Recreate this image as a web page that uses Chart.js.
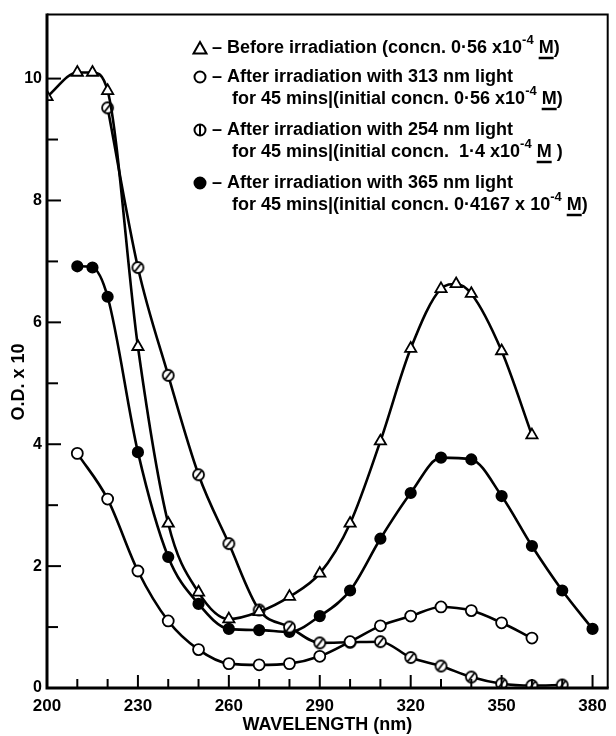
<!DOCTYPE html>
<html>
<head>
<meta charset="utf-8">
<script src="https://cdn.jsdelivr.net/npm/chart.js@4"></script>
<style>
html,body{margin:0;padding:0;background:#fff;}
#wrap{width:616px;height:736px;position:relative;}
</style>
</head>
<body>
<div id="wrap"><canvas id="c" width="616" height="736"></canvas></div>
<script>
// ---- data ----
const wavelengthsBefore = [200,210,215,220,230,240,250,260,270,280,290,300,310,320,330,335,340,350,360];
const odBefore          = [9.7,10.1,10.1,9.8,5.6,2.7,1.57,1.13,1.25,1.5,1.88,2.7,4.05,5.57,6.55,6.63,6.47,5.53,4.15];
const wavelengths313 = [210,220,230,240,250,260,270,280,290,300,310,320,330,340,350,360];
const od313          = [3.85,3.1,1.92,1.1,0.63,0.4,0.38,0.4,0.52,0.76,1.02,1.18,1.33,1.27,1.07,0.82];
const wavelengths254 = [220,230,240,250,260,270,280,290,300,310,320,330,340,350,360,370];
const od254          = [9.52,6.9,5.13,3.5,2.37,1.28,1.0,0.74,0.75,0.76,0.5,0.36,0.18,0.07,0.04,0.05];
const wavelengths365 = [210,215,220,230,240,250,260,270,280,290,300,310,320,330,340,350,360,370,380];
const od365          = [6.92,6.9,6.42,3.87,2.15,1.38,0.97,0.95,0.92,1.18,1.6,2.45,3.2,3.78,3.75,3.15,2.33,1.6,0.97];

const xTickValues = [200,210,220,230,240,250,260,270,280,290,300,310,320,330,340,350,360,370,380];
const xTickLabels = [200,230,260,290,320,350,380];
const yTickValues = [0,1,2,3,4,5,6,7,8,9,10];
const yTickLabels = [0,2,4,6,8,10];

const xTitle = 'WAVELENGTH (nm)';
const yTitle = 'O.D. x 10';

const legendLines = [
  {sym:'triangle', parts:[['– Before irradiation (concn. 0·56 x10'],['-4','sup'],[' '],['M','u'],[')']]},
  {sym:'open', parts:[['– After irradiation with 313 nm light']]},
  {sym:null, parts:[['for 45 mins|(initial concn. 0·56 x10'],['-4','sup'],[' '],['M','u'],[')']]},
  {sym:'slashV', parts:[['– After irradiation with 254 nm light']]},
  {sym:null, parts:[['for 45 mins|(initial concn.  1·4 x10'],['-4','sup'],[' '],['M','u'],[' )']]},
  {sym:'filled', parts:[['– After irradiation with 365 nm light']]},
  {sym:null, parts:[['for 45 mins|(initial concn. 0·4167 x 10'],['-4','sup'],[' '],['M','u'],[')']]}
];

const pts = (xs, ys) => xs.map((x,i)=>({x:x, y:ys[i]}));

// slashed-circle marker
function slashedMarker(){
  const c = document.createElement('canvas');
  c.width = 15; c.height = 15;
  const g = c.getContext('2d');
  g.beginPath(); g.arc(7.5,7.5,5.5,0,Math.PI*2);
  g.fillStyle='#fff'; g.fill();
  g.lineWidth=1.8; g.strokeStyle='#000'; g.stroke();
  g.beginPath(); g.moveTo(4.6,11.2); g.lineTo(10.4,3.8); g.lineWidth=1.8; g.stroke();
  return c;
}

const FONT = "'Liberation Sans', Arial, sans-serif";

const decorPlugin = {
  id:'decor',
  afterDraw(chart){
    const ctx = chart.ctx;
    const a = chart.chartArea;
    const xs = chart.scales.x, ys = chart.scales.y;
    ctx.save();
    ctx.strokeStyle='#000';
    // frame
    ctx.lineWidth = 2;
    ctx.beginPath(); ctx.moveTo(a.left, a.top); ctx.lineTo(a.right, a.top); ctx.lineTo(a.right, a.bottom); ctx.stroke();
    ctx.lineWidth = 3;
    ctx.beginPath(); ctx.moveTo(a.left, a.top-1); ctx.lineTo(a.left, a.bottom); ctx.lineTo(a.right+1, a.bottom); ctx.stroke();
    // inward ticks
    ctx.lineWidth = 2;
    xTickValues.forEach(v=>{
      const px = xs.getPixelForValue(v);
      const len = xTickLabels.includes(v) ? 13 : 9;
      ctx.beginPath(); ctx.moveTo(px, a.bottom); ctx.lineTo(px, a.bottom-len); ctx.stroke();
    });
    yTickValues.forEach(v=>{
      const py = ys.getPixelForValue(v);
      const len = yTickLabels.includes(v) ? 14 : 11;
      ctx.beginPath(); ctx.moveTo(a.left, py); ctx.lineTo(a.left+len, py); ctx.stroke();
    });
    // axis titles
    ctx.fillStyle='#000';
    ctx.font = "bold 18px " + FONT;
    ctx.textAlign='center'; ctx.textBaseline='middle';
    ctx.fillText(xTitle, (a.left+a.right)/2, 725);
    ctx.save();
    ctx.translate(19, 382); ctx.rotate(-Math.PI/2);
    ctx.fillText(yTitle, 0, 0);
    ctx.restore();
    // legend
    const lineY = [48,77,99,130,152,183,205];
    ctx.textAlign='left'; ctx.textBaseline='middle';
    legendLines.forEach((ln,i)=>{
      const y = lineY[i];
      let x = ln.sym ? 212 : 232;
      if(ln.sym){
        const sx = 200, r = 5.5;
        ctx.lineWidth = 2;
        ctx.beginPath();
        if(ln.sym==='triangle'){
          ctx.moveTo(sx, y-6); ctx.lineTo(sx+6.5, y+5.5); ctx.lineTo(sx-6.5, y+5.5); ctx.closePath();
          ctx.fillStyle='#fff'; ctx.fill(); ctx.stroke();
        } else {
          ctx.arc(sx, y, r, 0, Math.PI*2);
          ctx.fillStyle = ln.sym==='filled' ? '#000' : '#fff';
          ctx.fill(); ctx.stroke();
          if(ln.sym==='slashV'){ ctx.beginPath(); ctx.moveTo(sx, y-6); ctx.lineTo(sx, y+6); ctx.stroke(); }
        }
        ctx.fillStyle='#000';
      }
      ln.parts.forEach(p=>{
        const txt = p[0], kind = p[1];
        if(kind==='sup'){
          ctx.font = "bold 13px " + FONT;
          ctx.fillText(txt, x, y-8);
        } else {
          ctx.font = "bold 18px " + FONT;
          ctx.fillText(txt, x, y);
          if(kind==='u'){
            const w = ctx.measureText(txt).width;
            ctx.lineWidth=2.5;
            ctx.beginPath(); ctx.moveTo(x, y+10); ctx.lineTo(x+w, y+10); ctx.stroke();
          }
        }
        x += ctx.measureText(txt).width;
      });
    });
    ctx.restore();
  }
};

const common = {
  borderColor:'#000', borderWidth:2.6, showLine:true, fill:false,
  cubicInterpolationMode:'monotone', tension:0.4,
  pointBorderColor:'#000', pointBorderWidth:1.8, pointBackgroundColor:'#fff'
};

new Chart(document.getElementById('c'), {
  type:'scatter',
  data:{
    datasets:[
      Object.assign({}, common, {label:'Before irradiation', data:pts(wavelengthsBefore, odBefore), pointStyle:'triangle', pointRadius:6.5}),
      Object.assign({}, common, {label:'313 nm', data:pts(wavelengths313, od313), pointStyle:'circle', pointRadius:5.5}),
      Object.assign({}, common, {label:'254 nm', data:pts(wavelengths254, od254), pointStyle:slashedMarker(), pointRadius:6}),
      Object.assign({}, common, {label:'365 nm', data:pts(wavelengths365, od365), pointStyle:'circle', pointRadius:5.2, pointBackgroundColor:'#000'})
    ]
  },
  options:{
    responsive:false, animation:false,
    layout:{padding:{top:13, right:3, left:0, bottom:0}},
    plugins:{legend:{display:false}, tooltip:{enabled:false}},
    scales:{
      x:{
        type:'linear', min:200, max:385,
        grid:{display:false, drawTicks:false}, border:{display:false},
        afterBuildTicks(s){ s.ticks = xTickValues.map(v=>({value:v})); },
        afterFit(s){ s.height = 48; },
        ticks:{
          autoSkip:false, maxRotation:0, padding:8, color:'#000',
          font:{family:FONT, size:17, weight:'bold'},
          callback:(v)=> xTickLabels.includes(v) ? String(v) : ''
        }
      },
      y:{
        type:'linear', min:0, max:11.05,
        grid:{display:false, drawTicks:false}, border:{display:false},
        afterBuildTicks(s){ s.ticks = yTickValues.map(v=>({value:v})); },
        afterFit(s){ s.width = 47; },
        ticks:{
          autoSkip:false, padding:5, color:'#000',
          font:{family:FONT, size:16, weight:'bold'},
          callback:(v)=> yTickLabels.includes(v) ? String(v) : ''
        }
      }
    }
  },
  plugins:[decorPlugin]
});
</script>
</body>
</html>
